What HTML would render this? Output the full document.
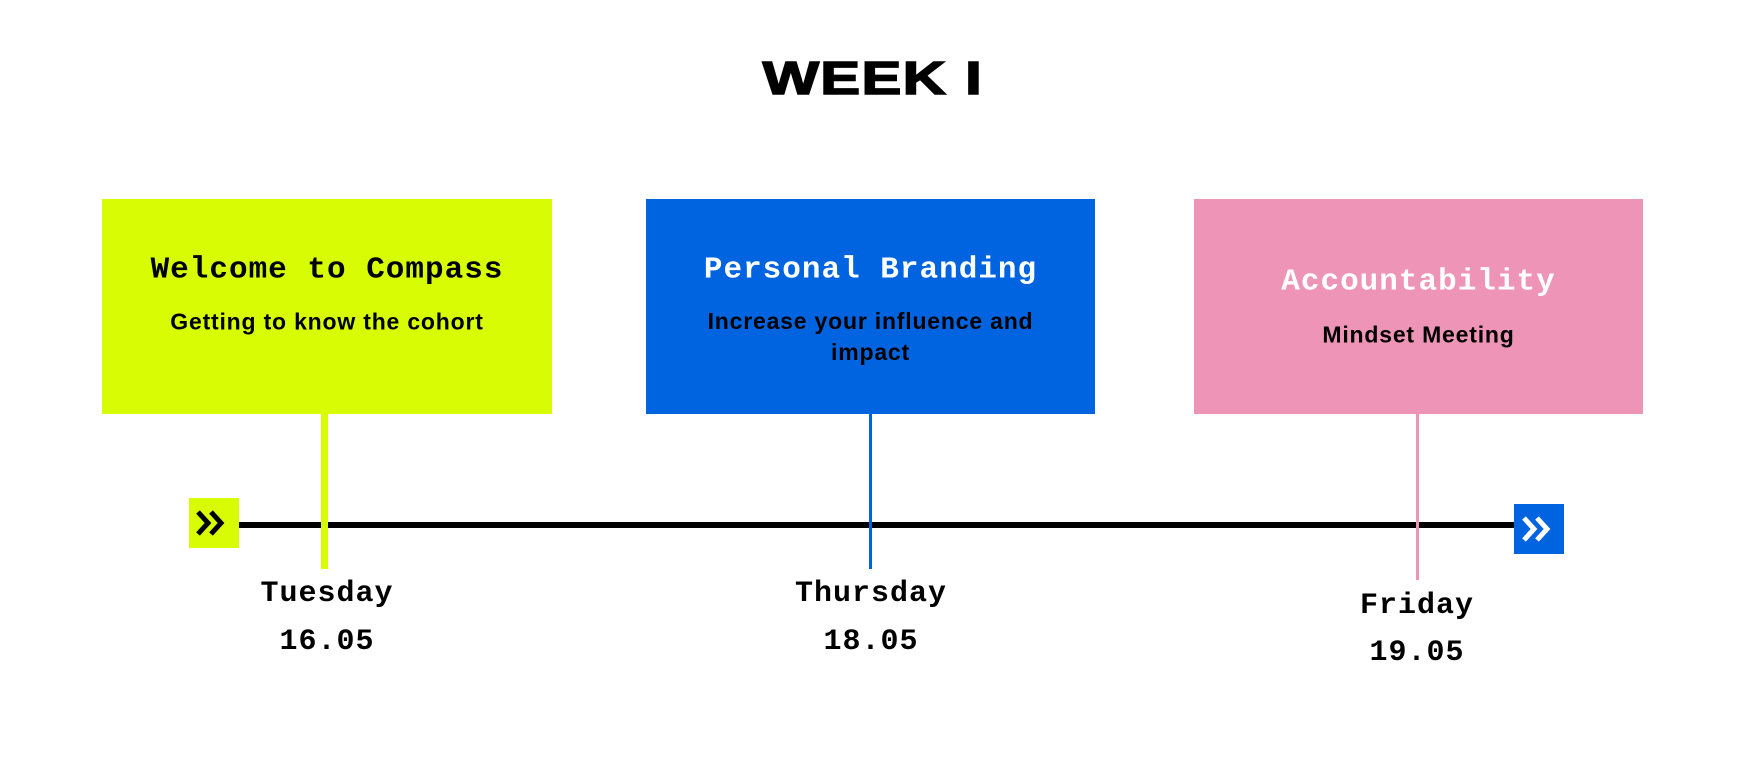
<!DOCTYPE html>
<html><head><style>
body{margin:0;width:1745px;height:765px;background:#fff;position:relative;overflow:hidden;font-family:"Liberation Sans",sans-serif}
.a{position:absolute}
.box{position:absolute;top:199px;height:215px}
.t{position:absolute;left:0;right:0;text-align:center;font-family:"Liberation Mono",monospace;font-weight:bold;font-size:31px;letter-spacing:1px;transform:translateY(-50%)}
.s{position:absolute;left:0;right:0;text-align:center;font-weight:bold;font-size:23px;letter-spacing:0.8px;line-height:31px;transform:translateY(-50%)}
.d{position:absolute;width:300px;text-align:center;font-family:"Liberation Mono",monospace;font-weight:bold;font-size:30px;letter-spacing:1px;transform:translate(-50%,-50%);color:#000}
</style></head><body>
<div class="a" style="left:0;right:0;top:78px;transform:translateY(-50%);text-align:center;font-weight:900;font-size:46px;letter-spacing:1px;-webkit-text-stroke:1.5px #000"><span style="display:inline-block;transform:scaleX(1.3)">WEEK I</span></div>

<div class="box" style="left:102px;width:450px;background:#d7fc03">
<div class="t" style="top:71px;color:#000">Welcome to Compass</div>
<div class="s" style="top:123px;color:#000">Getting to know the cohort</div></div>
<div class="box" style="left:646px;width:449px;background:#0064e0">
<div class="t" style="top:71px;color:#fff">Personal Branding</div>
<div class="s" style="top:138px;color:#000">Increase your influence and<br>impact</div></div>
<div class="box" style="left:1194px;width:449px;background:#ee94b6">
<div class="t" style="top:83px;color:#fff">Accountability</div>
<div class="s" style="top:136px;color:#000">Mindset Meeting</div></div>

<div class="a" style="left:238px;top:522px;width:1278px;height:6px;background:#000"></div>
<div class="a" style="left:321px;top:414px;width:7px;height:155px;background:#d7fc03"></div>
<div class="a" style="left:869px;top:414px;width:3px;height:155px;background:#0064e0"></div>
<div class="a" style="left:1416px;top:414px;width:3px;height:166px;background:#ee94b6"></div>

<svg class="a" style="left:189px;top:498px" width="50" height="50"><rect width="50" height="50" fill="#d7fc03"/><path d="M9 14l10 11-10 11M22 14l10 11-10 11" stroke="#000" stroke-width="5" fill="none"/></svg>
<svg class="a" style="left:1514px;top:504px" width="50" height="50"><rect width="50" height="50" fill="#0064e0"/><path d="M10 14l10 11-10 11M23 14l10 11-10 11" stroke="#fff" stroke-width="5" fill="none"/></svg>

<div class="d" style="left:327px;top:594px">Tuesday</div>
<div class="d" style="left:327px;top:642px">16.05</div>
<div class="d" style="left:871px;top:594px">Thursday</div>
<div class="d" style="left:871px;top:642px">18.05</div>
<div class="d" style="left:1417px;top:606px">Friday</div>
<div class="d" style="left:1417px;top:653px">19.05</div>
</body></html>
